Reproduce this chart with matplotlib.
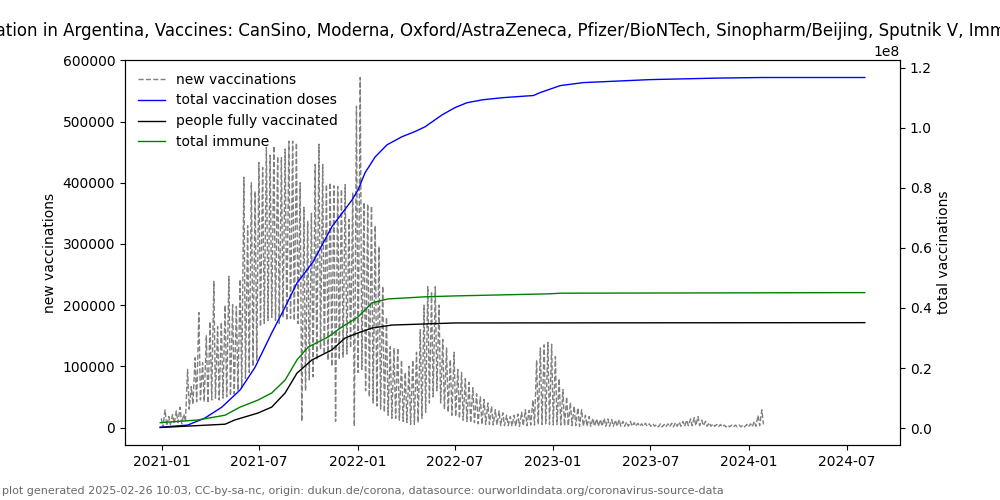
import matplotlib
matplotlib.use("Agg")
import matplotlib.pyplot as plt
import numpy as np
import pandas as pd

# ---- data ----
first_week = "2020-12-29"
# weekly high (weekday) and low (weekend) of new vaccinations, in thousands
weekly_high_k = [15, 29, 18, 21, 27, 33, 22, 95, 67, 114,
                 188, 106, 150, 173, 239, 165, 172, 200, 247, 201,
                 198, 242, 409, 330, 400, 386, 433, 425, 458, 445,
                 460, 443, 441, 455, 468, 468, 465, 400, 360, 337,
                 350, 430, 463, 430, 397, 400, 395, 394, 389, 397,
                 340, 384, 525, 572, 368, 365, 362, 330, 296, 231,
                 180, 132, 130, 130, 110, 90, 100, 110, 123, 160,
                 200, 230, 220, 230, 200, 144, 130, 111, 123, 95,
                 90, 80, 74, 65, 55, 50, 46, 40, 35, 29,
                 27, 24, 20, 18, 20, 22, 25, 29, 28, 45,
                 110, 130, 135, 139, 136, 116, 80, 62, 50, 41,
                 35, 32, 29, 20, 18, 15, 14, 13, 15, 14,
                 13, 12, 13, 10, 9, 10, 8, 7, 6, 7,
                 6, 6, 5, 6, 5, 6, 7, 8, 9, 10,
                 12, 14, 16, 18, 12, 10, 8, 6, 5, 5,
                 4, 4, 4, 4, 4, 4, 5, 6, 10, 20,
                 29]
weekly_low_k = [0, 3, 5, 6, 8, 6, 10, 30, 38, 42,
                45, 42, 40, 45, 48, 45, 48, 50, 52, 55,
                60, 65, 80, 90, 100, 110, 165, 170, 175, 180,
                175, 170, 180, 175, 178, 175, 170, 10, 60, 78,
                83, 110, 128, 120, 110, 100, 10, 111, 115, 120,
                130, 2, 90, 95, 60, 50, 40, 35, 30, 25,
                20, 15, 15, 12, 10, 8, 5, 5, 8, 15,
                25, 40, 50, 60, 40, 30, 25, 20, 18, 15,
                12, 10, 8, 8, 6, 5, 5, 5, 4, 4,
                3, 3, 3, 2, 2, 2, 3, 3, 4, 4,
                5, 5, 6, 5, 4, 5, 4, 3, 3, 3,
                3, 2, 2, 2, 2, 2, 2, 2, 2, 2,
                2, 2, 2, 2, 2, 2, 2, 2, 2, 2,
                2, 2, 1, 1, 1, 1, 1, 2, 2, 2,
                3, 3, 3, 3, 3, 2, 2, 2, 1, 1,
                1, 1, 1, 1, 1, 1, 1, 1, 2, 3,
                5]

# cumulative series (millions) at sample dates
doses_dates = ["2020-12-29", "2021-02-18", "2021-03-22", "2021-04-23", "2021-05-27",
               "2021-06-24", "2021-07-25", "2021-08-19", "2021-09-10", "2021-10-10",
               "2021-11-14", "2021-12-22", "2022-01-02", "2022-01-15", "2022-02-03",
               "2022-02-25", "2022-03-25", "2022-04-18", "2022-05-07", "2022-06-08",
               "2022-07-02", "2022-07-24", "2022-08-23", "2022-09-30", "2022-11-25",
               "2022-12-08", "2023-01-14", "2023-02-26", "2023-07-01", "2023-11-03",
               "2024-01-28", "2024-08-04"]
doses_m = [0.3, 1.0, 3.3, 7.0, 12.7,
           20.3, 31.7, 40.3, 48.3, 55.3,
           67.0, 76.0, 79.3, 85.0, 90.3,
           94.3, 97.0, 98.7, 100.3, 104.3,
           106.7, 108.3, 109.3, 110.0, 110.7,
           111.7, 114.0, 115.0, 116.0, 116.5,
           116.7, 116.7]

immune_dates = ["2020-12-29", "2021-03-09", "2021-04-29", "2021-05-27", "2021-06-29",
                "2021-07-25", "2021-08-19", "2021-09-10", "2021-10-01", "2021-11-07",
                "2021-12-03", "2022-01-02", "2022-01-28", "2022-02-27", "2022-05-07",
                "2022-07-02", "2022-12-26", "2023-01-14", "2024-08-04"]
immune_m = [1.8, 2.7, 4.3, 7.0, 9.3,
            11.7, 16.0, 22.7, 27.0, 30.3,
            33.7, 37.0, 41.7, 43.0, 43.7,
            44.0, 44.7, 44.9, 45.1]

full_dates = ["2020-12-29", "2021-04-29", "2021-05-17", "2021-06-29", "2021-07-25",
              "2021-08-19", "2021-09-10", "2021-10-08", "2021-11-14", "2021-12-09",
              "2022-01-02", "2022-01-28", "2022-03-06", "2022-07-02", "2024-08-04"]
full_m = [0.2, 1.3, 2.7, 5.0, 7.0,
          11.7, 18.3, 22.7, 26.0, 30.0,
          31.7, 33.3, 34.3, 35.0, 35.1]

title = ("Vaccination in Argentina, Vaccines: CanSino, Moderna, Oxford/AstraZeneca, "
         "Pfizer/BioNTech, Sinopharm/Beijing, Sputnik V, Immune: 45M")
footer = ("plot generated 2025-02-26 10:03, CC-by-sa-nc, origin: dukun.de/corona, "
          "datasource: ourworldindata.org/coronavirus-source-data")

# ---- build the new vaccinations series ----
weeks = pd.date_range(first_week, periods=len(weekly_high_k), freq="7D")
high_dates = weeks + pd.Timedelta(days=2)
low_dates = weeks + pd.Timedelta(days=5)
nv = pd.concat([
    pd.Series(np.array(weekly_high_k) * 1000.0, index=high_dates),
    pd.Series(np.array(weekly_low_k) * 1000.0, index=low_dates),
]).sort_index()

fig, ax = plt.subplots(figsize=(10, 5), dpi=100)
ax2 = ax.twinx()

l1, = ax.plot(nv.index, nv.values, color="gray", linestyle="--", linewidth=1,
              label="new vaccinations")
l2, = ax2.plot(pd.to_datetime(doses_dates), np.array(doses_m) * 1e6, color="blue",
               linewidth=1, label="total vaccination doses")
l3, = ax2.plot(pd.to_datetime(full_dates), np.array(full_m) * 1e6, color="black",
               linewidth=1, label="people fully vaccinated")
l4, = ax2.plot(pd.to_datetime(immune_dates), np.array(immune_m) * 1e6, color="green",
               linewidth=1, label="total immune")

ax.set_ylabel("new vaccinations")
ax2.set_ylabel("total vaccinations")
ax.set_title(title)
ax.legend(handles=[l1, l2, l3, l4], loc="upper left", frameon=False)

fig.text(0.002, 0.012, footer, fontsize=8, color="dimgray")

fig.savefig("out.png", dpi=100)
